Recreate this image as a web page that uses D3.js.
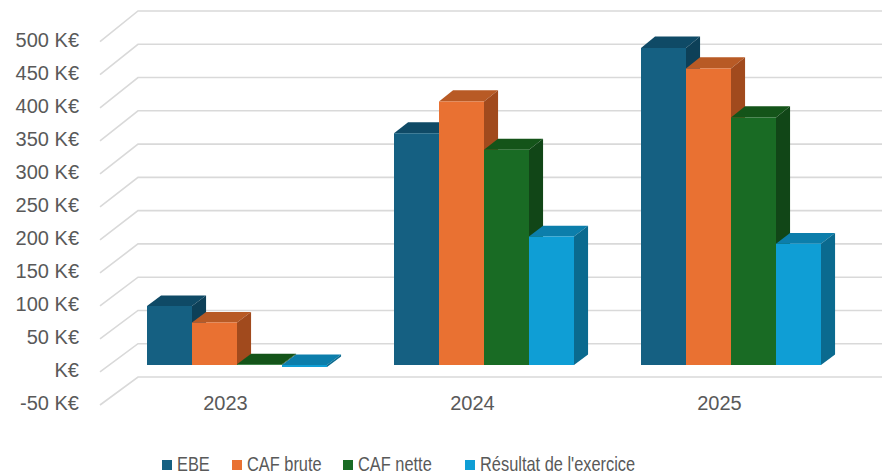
<!DOCTYPE html>
<html>
<head>
<meta charset="utf-8">
<script src="https://cdn.jsdelivr.net/npm/d3@7"></script>
<style>
  html, body { margin: 0; padding: 0; background: #ffffff; }
  svg { display: block; }
</style>
</head>
<body>
<svg id="chart" width="884" height="476"></svg>
<script>
// Financial indicators per year (K€)
const categories = ["2023", "2024", "2025"];
const seriesNames = ["EBE", "CAF brute", "CAF nette", "Résultat de l'exercice"];
const ebe = [89, 350, 479];
const cafBrute = [64, 398, 448];
const cafNette = [1, 325, 374];
const resultat = [-3, 194, 183];
const tickValues = [-50, 0, 50, 100, 150, 200, 250, 300, 350, 400, 450, 500];
const tickLabels = ["-50 K€", "K€", "50 K€", "100 K€", "150 K€", "200 K€", "250 K€", "300 K€", "350 K€", "400 K€", "450 K€", "500 K€"];

const seriesValues = [ebe, cafBrute, cafNette, resultat];
const colors = ["#156082", "#E97132", "#196B24", "#0F9ED5"];
const topColors = ["#0f4a66", "#b85a25", "#145419", "#0c7eab"];
const sideColors = ["#0d4058", "#a14a1d", "#114617", "#0a6a8f"];

const svg = d3.select("#chart");
const textColor = "#595959";
const gridColor = "#d9d9d9";

// Oblique 3D projection: z = 0 is the front plane, z = 1 the back wall
const DX = 38;
const yFront = d3.scaleLinear().domain([-50, 500]).range([405, 41.7]);
const yBack = d3.scaleLinear().domain([-50, 500]).range([377, 11]);
const proj = (x, v, z) => [x + z * DX, (1 - z) * yFront(v) + z * yBack(v)];

const wallLeft = 100;
const wallRight = 882;

// Category bands on the front plane, series bands inside each group
const x0 = d3.scaleBand().domain(categories).range([104, 845]).paddingInner(0).paddingOuter(0);
const groupWidth = 180;
const x1 = d3.scaleBand().domain(seriesNames).range([0, groupWidth]);
const groupOffset = (x0.bandwidth() - groupWidth) / 2;

// Gridlines: left side wall diagonals + back wall horizontals
const grid = svg.append("g").attr("stroke", gridColor).attr("stroke-width", 1.6).attr("fill", "none");
tickValues.forEach(v => {
  const a = [wallLeft, yFront(v)];
  const b = [wallLeft + DX, yBack(v)];
  grid.append("path").attr("d", d3.line()([a, b, [wallRight, yBack(v)]]));
});

// Value axis labels
svg.append("g")
  .selectAll("text")
  .data(tickValues)
  .join("text")
  .attr("x", 79)
  .attr("y", d => yFront(d) + 5)
  .attr("text-anchor", "end")
  .attr("font-family", "'Liberation Sans', Arial, sans-serif")
  .attr("font-size", 20)
  .attr("fill", textColor)
  .text((d, i) => tickLabels[i]);

// Bars as 3D boxes
const z0 = 0.25, z1 = 0.62;
const bars = svg.append("g");
const poly = pts => d3.line()(pts) + "Z";

categories.forEach((cat, ci) => {
  seriesNames.forEach((name, si) => {
    const v = seriesValues[si][ci];
    const xl = x0(cat) + groupOffset + x1(name);
    const xr = xl + x1.bandwidth();
    const top = Math.max(v, 0), bot = Math.min(v, 0);
    const g = bars.append("g");
    // top face
    g.append("path")
      .attr("d", poly([proj(xl, top, z0), proj(xr, top, z0), proj(xr, top, z1), proj(xl, top, z1)]))
      .attr("fill", topColors[si]);
    // right side face
    g.append("path")
      .attr("d", poly([proj(xr, top, z0), proj(xr, top, z1), proj(xr, bot, z1), proj(xr, bot, z0)]))
      .attr("fill", sideColors[si]);
    // front face
    g.append("path")
      .attr("d", poly([proj(xl, top, z0), proj(xr, top, z0), proj(xr, bot, z0), proj(xl, bot, z0)]))
      .attr("fill", colors[si]);
  });
});

// Category labels
svg.append("g")
  .selectAll("text")
  .data(categories)
  .join("text")
  .attr("x", d => x0(d) + x0.bandwidth() / 2 - 2)
  .attr("y", 410)
  .attr("text-anchor", "middle")
  .attr("font-family", "'Liberation Sans', Arial, sans-serif")
  .attr("font-size", 20)
  .attr("fill", textColor)
  .text(d => d);

// Legend (condensed text)
const legendX = [162, 232, 343, 465];
const legend = svg.append("g");
seriesNames.forEach((name, i) => {
  legend.append("rect")
    .attr("x", legendX[i]).attr("y", 460)
    .attr("width", 10).attr("height", 10)
    .attr("fill", colors[i]);
  legend.append("text")
    .attr("transform", `translate(${legendX[i] + 15},471) scale(0.82,1)`)
    .attr("font-family", "'Liberation Sans', Arial, sans-serif")
    .attr("font-size", 20)
    .attr("fill", textColor)
    .text(name);
});
</script>
</body>
</html>
